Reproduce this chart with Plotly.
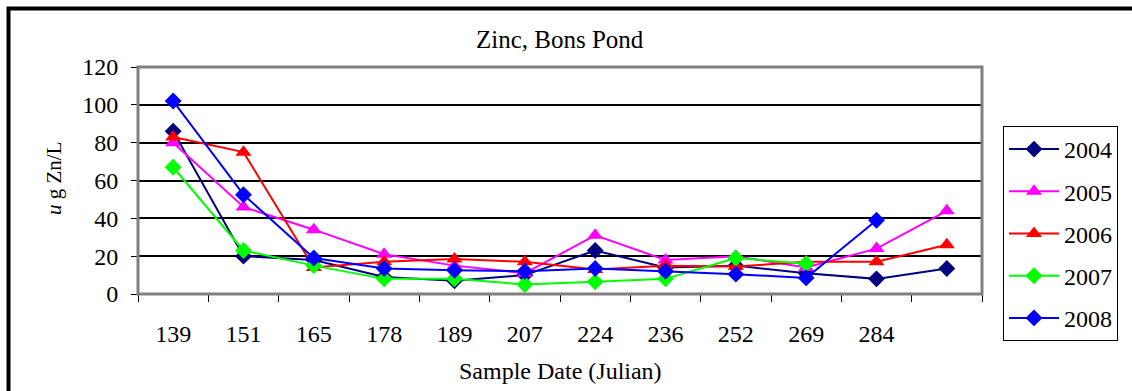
import plotly.graph_objects as go

categories = ["139", "151", "165", "178", "189", "207", "224", "236", "252", "269", "284", ""]
y2004 = [86, 20, 18, 9, 7, 10, 23, 14, 15, 11, 8, 13.5]
y2005 = [80, 46, 34, 21, 15, 11, 31, 18, 20, 14, 24, 44]
y2006 = [83, 75, 14, 17, 18.5, 17, 13, 15, 14.5, 17, 17, 26]
y2007 = [67, 23, 15, 8, 8, 5, 6.5, 8, 19, 16, None, None]
y2008 = [102, 52.5, 19, 13.5, 12.5, 12, 13.5, 12, 10.5, 8.5, 39, None]
series_names = ["2004", "2005", "2006", "2007", "2008"]
series_vals = [y2004, y2005, y2006, y2007, y2008]
colors = ["#000080", "#FF00FF", "#FF0000", "#00FF00", "#0000FF"]
symbols = ["diamond", "triangle-up", "triangle-up", "diamond", "diamond"]
yticks = [0, 20, 40, 60, 80, 100, 120]

W, H = 1132, 391
L, R, T, B = 138, 982, 67, 294
FONT = "Liberation Serif"
FS = 24

xpos = list(range(len(categories)))

fig = go.Figure()
for name, vals, col, sym in zip(series_names, series_vals, colors, symbols):
    fig.add_trace(go.Scatter(
        x=xpos, y=vals, name=name, mode="lines+markers",
        line=dict(color=col, width=2),
        marker=dict(symbol=sym, size=13 if sym == "diamond" else 14, color=col),
        legendgroup=name, connectgaps=False,
    ))

def px2x(px):
    return (px - L) / (R - L)

def py2y(py):
    return (B - py) / (B - T)

fig.update_layout(
    width=W, height=H,
    margin=dict(l=L, r=W - R, t=T, b=H - B, pad=0),
    paper_bgcolor="white", plot_bgcolor="white",
    font=dict(family=FONT, size=FS, color="black"),
    showlegend=True,
    legend=dict(
        x=px2x(1003), y=py2y(126), xanchor="left", yanchor="top",
        bordercolor="black", borderwidth=1, bgcolor="white",
        font=dict(family=FONT, size=FS, color="black"),
        tracegroupgap=8, itemwidth=50,
    ),
    xaxis=dict(
        range=[-0.5, len(categories) - 0.5],
        tickvals=xpos, ticktext=categories,
        ticks="", showgrid=False, zeroline=False,
        showline=False,
        ticklabelstandoff=23,
        tickfont=dict(family=FONT, size=FS),
        minor=dict(tickvals=[i - 0.5 for i in range(len(categories) + 1)],
                   ticks="outside", ticklen=7, tickcolor="black", tickwidth=1,
                   showgrid=False),
    ),
    yaxis=dict(
        range=[0, 120], tickvals=yticks,
        ticks="outside", ticklen=6, tickcolor="black", tickwidth=1,
        showgrid=True, gridcolor="black", gridwidth=2,
        zeroline=False, showline=False,
        ticklabelstandoff=8,
        tickfont=dict(family=FONT, size=FS),
    ),
    annotations=[
        dict(text="Zinc, Bons Pond", xref="paper", yref="paper",
             x=0.5, y=py2y(40), xanchor="center", yanchor="middle",
             showarrow=False, font=dict(family=FONT, size=25)),
        dict(text="Sample Date (Julian)", xref="paper", yref="paper",
             x=0.5, y=py2y(371), xanchor="center", yanchor="middle",
             showarrow=False, font=dict(family=FONT, size=FS)),
        dict(text="<i>u</i> g Zn/L", xref="paper", yref="paper",
             x=px2x(54), y=py2y(178), xanchor="center", yanchor="middle",
             textangle=-90, showarrow=False, font=dict(family=FONT, size=21)),
    ],
    shapes=[
        dict(type="rect", xref="paper", yref="paper", x0=0, x1=1, y0=0, y1=1,
             line=dict(color="#808080", width=3), layer="above"),
        dict(type="rect", xref="paper", yref="paper",
             x0=px2x(8.5), x1=px2x(1145), y0=py2y(8.5), y1=py2y(400),
             line=dict(color="black", width=4), layer="above"),
    ],
)

fig.write_html("out.html")
